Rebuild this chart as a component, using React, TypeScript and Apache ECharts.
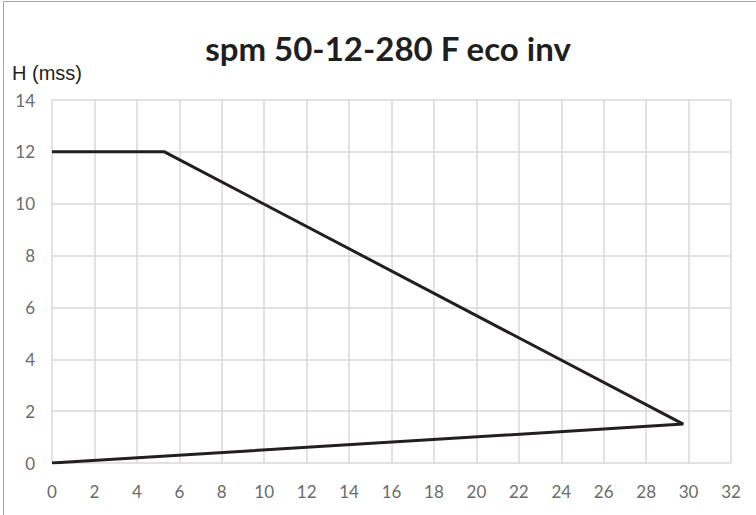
import React, { useEffect, useRef } from "react";
import * as echarts from "echarts";

const title = "spm 50-12-280 F eco inv";
const yAxisName = "H (mss)";
const curveX = [0, 5.3, 29.75, 0];
const curveY = [12, 12, 1.5, 0];

export default function App() {
  const ref = useRef<HTMLDivElement>(null);
  useEffect(() => {
    document.body.style.margin = "0";
    const chart = echarts.init(ref.current!, null, { renderer: "svg" });
    const labelStyle = {
      color: "#6b6b6b",
      fontFamily: "Lato, 'Open Sans', sans-serif",
      fontSize: 17,
    };
    chart.setOption({
      animation: false,
      backgroundColor: "#ffffff",
      grid: { left: 52, right: 25, top: 100, bottom: 52, containLabel: false },
      title: {
        text: title,
        left: 383,
        top: 26,
        textAlign: "center",
        textStyle: {
          fontFamily: "Lato, 'Open Sans', sans-serif",
          fontWeight: "bold",
          fontSize: 33,
          color: "#1f1f1f",
        },
      },
      graphic: [
        {
          type: "rect",
          shape: { x: 3.5, y: 1.5, width: 800, height: 600 },
          style: { fill: "none", stroke: "#a6a6a6", lineWidth: 1 },
          silent: true,
        },
        {
          type: "text",
          left: 12,
          top: 63,
          style: {
            text: yAxisName,
            fill: "#1f1f1f",
            font: "20px 'Liberation Sans Narrow', 'Liberation Sans', sans-serif",
          },
        },
      ],
      xAxis: {
        type: "value",
        min: 0,
        max: 32,
        interval: 2,
        axisLine: { show: false },
        axisTick: { show: false },
        axisLabel: { ...labelStyle, margin: 20 },
        splitLine: { show: true, lineStyle: { color: "#d9d9d9", width: 1.5 } },
      },
      yAxis: {
        type: "value",
        min: 0,
        max: 14,
        interval: 2,
        axisLine: { show: false },
        axisTick: { show: false },
        axisLabel: { ...labelStyle, margin: 17 },
        splitLine: { show: true, lineStyle: { color: "#d9d9d9", width: 1.5 } },
      },
      series: [
        {
          type: "line",
          data: curveX.map((x, i) => [x, curveY[i]]),
          symbol: "none",
          lineStyle: { color: "#231f20", width: 3 },
        },
      ],
    });
    return () => chart.dispose();
  }, []);
  return <div ref={ref} style={{ width: 756, height: 515 }} />;
}
